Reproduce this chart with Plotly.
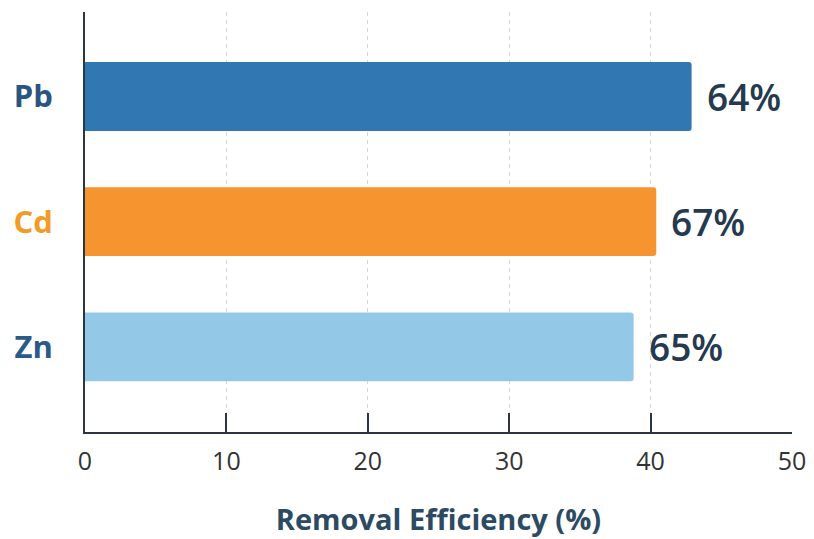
import plotly.graph_objects as go

metals = ["Zn", "Cd", "Pb"]
efficiency = [38.8, 40.4, 42.9]
value_labels = ["65%", "67%", "64%"]
bar_colors = ["#93c8e6", "#f6952f", "#3178b3"]
label_colors = ["#2b5a88", "#f39a28", "#2a5580"]
x_ticks = [0, 10, 20, 30, 40, 50]

fig = go.Figure()
fig.add_trace(go.Bar(
    y=metals,
    x=efficiency,
    orientation="h",
    width=0.55,
    marker=dict(color=bar_colors, line=dict(width=0), cornerradius=3),
    hoverinfo="skip",
))

for m, v, t in zip(metals, efficiency, value_labels):
    fig.add_annotation(
        x=v, y=m, text=t, showarrow=False,
        xanchor="left", yanchor="middle", xshift=13,
        font=dict(family="Open Sans", size=37, color="#253a4f", weight=600),
    )

fig.update_layout(
    width=814, height=539,
    margin=dict(l=85, r=22, t=12, b=107),
    paper_bgcolor="white", plot_bgcolor="white",
    showlegend=False,
    font=dict(family="Open Sans"),
)
fig.update_xaxes(
    range=[0, 50],
    tickvals=x_ticks,
    ticktext=[str(v) for v in x_ticks],
    ticks="inside", ticklen=19, tickwidth=2, tickcolor="#2a3642",
    showline=True, linecolor="#2a3642", linewidth=2,
    showgrid=True, gridcolor="#d6d6d6", griddash="4px,4px", gridwidth=1,
    tickfont=dict(family="Open Sans", size=25, color="#333333", weight=400),
    ticklabelstandoff=6,
    title=dict(text="Removal Efficiency (%)", standoff=34,
               font=dict(family="Open Sans", size=29, color="#2d4a63", weight=700)),
    zeroline=False, automargin=False,
)
fig.update_yaxes(
    range=[-0.68, 2.675],
    tickvals=metals,
    ticktext=[f"<span style='color:{c}'><b>{m}</b></span>" for m, c in zip(metals, label_colors)],
    tickfont=dict(family="Open Sans", size=31),
    ticks="", ticklabelstandoff=24,
    showline=True, linecolor="#2a3642", linewidth=2,
    showgrid=False, zeroline=False, automargin=False,
)

fig.write_html("out.html", config={"displayModeBar": False},
               post_script="document.body.style.margin='0';")
